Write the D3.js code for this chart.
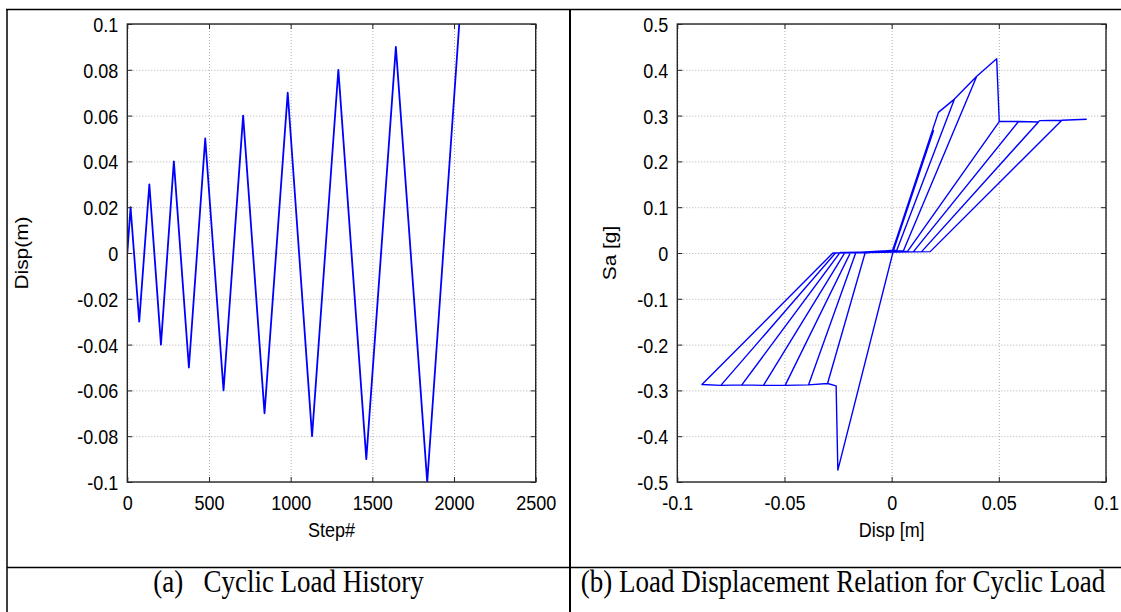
<!DOCTYPE html>
<html><head><meta charset="utf-8">
<script src="https://cdn.jsdelivr.net/npm/d3@7"></script>
<style>body{margin:0;background:#fff;} svg{display:block;}</style>
</head><body>
<svg id="c" width="1121" height="612"></svg>
<script>
// ---- (a) Cyclic load history ----
const stepValues   = [0, 20, 73, 135, 206, 285, 377, 477, 589, 709, 840, 982, 1131, 1292, 1463, 1644, 1836, 2032];
const dispHistory  = [0, 0.02, -0.03, 0.03, -0.04, 0.04, -0.05, 0.05, -0.06, 0.06, -0.07, 0.07, -0.08, 0.08, -0.09, 0.09, -0.1, 0.1];
const stepTicks    = [0, 500, 1000, 1500, 2000, 2500];
const stepTickLabels = ["0", "500", "1000", "1500", "2000", "2500"];
const dispTicksA   = [-0.1, -0.08, -0.06, -0.04, -0.02, 0, 0.02, 0.04, 0.06, 0.08, 0.1];
const dispTickLabelsA = ["-0.1", "-0.08", "-0.06", "-0.04", "-0.02", "0", "0.02", "0.04", "0.06", "0.08", "0.1"];

// ---- (b) Load-displacement relation ----
const loopDisp = [0, 0.0195, 0.0008, -0.0251, -0.0259, -0.0299, -0.0124, 0.0005, 0.0218, 0.0293,
  0.0024, -0.0124, -0.0299, -0.0388, -0.0167, 0.0024, 0.0293, 0.0397, 0.0055, -0.0167,
  -0.0388, -0.0497, -0.0192, 0.0055, 0.0397, 0.0490, 0.0502, 0.0075, -0.0192, -0.0497,
  -0.0598, -0.0218, 0.0075, 0.0502, 0.0592, 0.0102, -0.0218, -0.0598, -0.0699, -0.0241,
  0.0102, 0.0592, 0.0685, 0.0140, -0.0241, -0.0699, -0.0797, -0.0262, 0.0140, 0.0690,
  0.0794, 0.0180, -0.0262, -0.0797, -0.0885, -0.0274, 0.0180, 0.0794, 0.0910];
const loopSa = [0, 0.267, 0.005, -0.474, -0.290, -0.285, 0.000, 0.006, 0.307, 0.336,
  0.006, 0.000, -0.285, -0.288, 0.001, 0.006, 0.336, 0.386, 0.005, 0.001,
  -0.288, -0.289, 0.001, 0.005, 0.386, 0.424, 0.287, 0.004, 0.001, -0.289,
  -0.289, 0.001, 0.004, 0.287, 0.287, 0.003, 0.001, -0.289, -0.288, 0.001,
  0.003, 0.287, 0.286, 0.003, 0.001, -0.288, -0.289, 0.000, 0.003, 0.289,
  0.290, 0.003, 0.000, -0.289, -0.287, 0.000, 0.003, 0.290, 0.292];
const dispTicksB = [-0.1, -0.05, 0, 0.05, 0.1];
const dispTickLabelsB = ["-0.1", "-0.05", "0", "0.05", "0.1"];
const saTicks = [-0.5, -0.4, -0.3, -0.2, -0.1, 0, 0.1, 0.2, 0.3, 0.4, 0.5];
const saTickLabels = ["-0.5", "-0.4", "-0.3", "-0.2", "-0.1", "0", "0.1", "0.2", "0.3", "0.4", "0.5"];

const captions = ["(a)\u00a0\u00a0 Cyclic Load History", "(b) Load Displacement Relation for Cyclic Load"];

const svg = d3.select("#c");
const FONT = "'Liberation Sans', Arial, sans-serif";
const SERIF = "'Liberation Serif', 'Times New Roman', serif";
const FS = 18;
const STRETCH = 1.16; // the reference figure is slightly stretched vertically

// table frame
const frame = svg.append("g").attr("stroke", "#000").attr("fill", "none");
frame.append("line").attr("x1", 6).attr("x2", 1121).attr("y1", 9.5).attr("y2", 9.5).attr("stroke-width", 1.5);
frame.append("line").attr("x1", 7).attr("x2", 7).attr("y1", 9).attr("y2", 612).attr("stroke-width", 1.5);
frame.append("line").attr("x1", 570).attr("x2", 570).attr("y1", 9).attr("y2", 612).attr("stroke-width", 2);
frame.append("line").attr("x1", 7).attr("x2", 1121).attr("y1", 567.5).attr("y2", 567.5).attr("stroke-width", 1.5);

function stretchV(sel, cx, cy) {
  sel.attr("transform", `translate(${cx},${cy}) scale(1,${STRETCH}) translate(${-cx},${-cy})`);
}

function panel(opts) {
  const {x0, x1, y0, y1, xDomain, yDomain, xTicks, xLabels, yTicks, yLabels, xs, ys, xTitle, yTitle, yTitleX, lw, id} = opts;
  const w = x1 - x0, h = y1 - y0;
  const x = d3.scaleLinear().domain(xDomain).range([0, w]);
  const y = d3.scaleLinear().domain(yDomain).range([h, 0]);
  const g = svg.append("g").attr("transform", `translate(${x0},${y0})`);

  // grid
  const gx = g.append("g").attr("transform", `translate(0,${h})`)
    .call(d3.axisBottom(x).tickValues(xTicks).tickSize(-h).tickFormat(""));
  const gy = g.append("g").call(d3.axisLeft(y).tickValues(yTicks).tickSize(-w).tickFormat(""));
  [gx, gy].forEach(a => {
    a.select(".domain").remove();
    a.selectAll("line").attr("stroke", "#b0b0b0").attr("stroke-dasharray", "1,2").attr("stroke-width", 1);
  });

  // data
  g.append("clipPath").attr("id", id).append("rect").attr("width", w).attr("height", h);
  const line = d3.line().x(i => x(xs[i])).y(i => y(ys[i]));
  g.append("path").attr("clip-path", `url(#${id})`)
    .attr("d", line(d3.range(xs.length)))
    .attr("fill", "none").attr("stroke", "#0000ff").attr("stroke-width", lw).attr("stroke-linejoin", "round");

  // axes with inside ticks on all sides
  const axB = g.append("g").attr("transform", `translate(0,${h})`)
    .call(d3.axisBottom(x).tickValues(xTicks).tickSizeInner(-5).tickSizeOuter(0).tickPadding(13)
      .tickFormat((d, i) => xLabels[i]));
  const axT = g.append("g").call(d3.axisTop(x).tickValues(xTicks).tickSizeInner(-5).tickSizeOuter(0).tickFormat(""));
  const axL = g.append("g").call(d3.axisLeft(y).tickValues(yTicks).tickSizeInner(-5).tickSizeOuter(0).tickPadding(9)
      .tickFormat((d, i) => yLabels[i]));
  const axR = g.append("g").attr("transform", `translate(${w},0)`)
    .call(d3.axisRight(y).tickValues(yTicks).tickSizeInner(-5).tickSizeOuter(0).tickFormat(""));
  [axB, axT, axL, axR].forEach(a => {
    a.select(".domain").remove();
    a.selectAll("line").attr("stroke", "#262626").attr("stroke-width", 1);
    a.selectAll("text").attr("font-family", FONT).attr("font-size", FS).attr("fill", "#000");
  });
  axB.selectAll("text").attr("y", 28).attr("dy", null).each(function() { stretchV(d3.select(this), 0, 28); });
  axL.selectAll("text").attr("y", 7.5).attr("dy", null).each(function() { stretchV(d3.select(this), -9, 7.5); });

  g.append("rect").attr("width", w).attr("height", h).attr("fill", "none")
    .attr("stroke", "#262626").attr("stroke-width", 1.4);

  const xt = g.append("text").attr("x", w / 2).attr("y", h + 55).attr("text-anchor", "middle")
    .attr("font-family", FONT).attr("font-size", FS).text(xTitle);
  stretchV(xt, w / 2, h + 55);
  svg.append("text").attr("transform", `translate(${yTitleX},${y0 + h / 2}) rotate(-90) scale(${STRETCH},1)`)
    .attr("text-anchor", "middle").attr("font-family", FONT).attr("font-size", FS).text(yTitle);
}

panel({x0: 127.3, x1: 535.7, y0: 24, y1: 482, xDomain: [0, 2500], yDomain: [-0.1, 0.1],
  xTicks: stepTicks, xLabels: stepTickLabels, yTicks: dispTicksA, yLabels: dispTickLabelsA,
  xs: stepValues, ys: dispHistory, xTitle: "Step#", yTitle: "Disp(m)", yTitleX: 28, lw: 1.8, id: "clipA"});

panel({x0: 677.3, x1: 1106, y0: 24, y1: 482, xDomain: [-0.1, 0.1], yDomain: [-0.5, 0.5],
  xTicks: dispTicksB, xLabels: dispTickLabelsB, yTicks: saTicks, yLabels: saTickLabels,
  xs: loopDisp, ys: loopSa, xTitle: "Disp [m]", yTitle: "Sa [g]", yTitleX: 616, lw: 1.4, id: "clipB"});

// captions
const c1 = svg.append("text").attr("x", 288.5).attr("y", 592).attr("text-anchor", "middle")
  .attr("font-family", SERIF).attr("font-size", 27).text(captions[0]);
stretchV(c1, 288.5, 592);
const c2 = svg.append("text").attr("x", 843).attr("y", 592).attr("text-anchor", "middle")
  .attr("font-family", SERIF).attr("font-size", 27).text(captions[1]);
stretchV(c2, 843, 592);
</script>
</body></html>
